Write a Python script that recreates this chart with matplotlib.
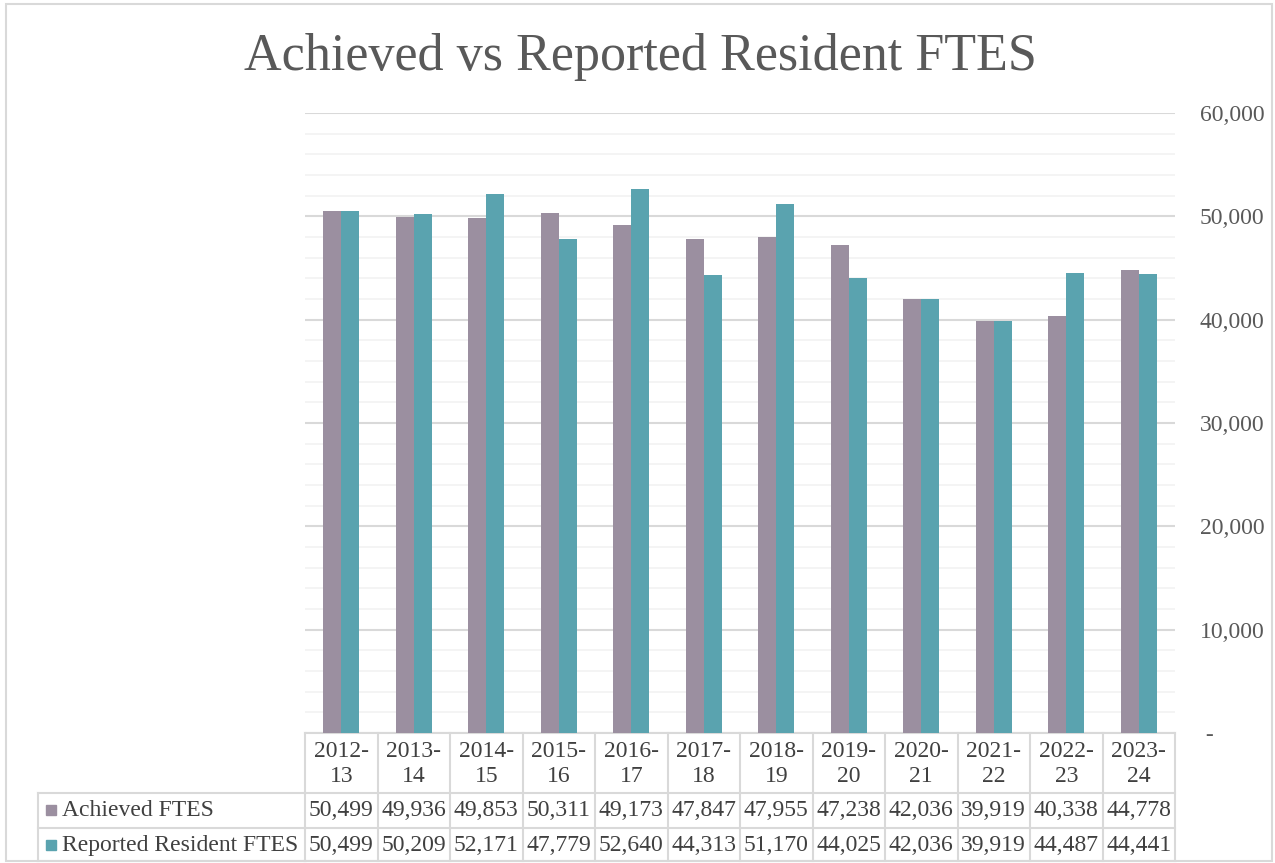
import numpy as np
import matplotlib.pyplot as plt
from matplotlib.patches import Rectangle
from matplotlib.transforms import blended_transform_factory
from matplotlib.ticker import FuncFormatter, MultipleLocator

plt.rcParams['font.family'] = ['Liberation Serif', 'DejaVu Serif']

# data
years = ["2012-\n13", "2013-\n14", "2014-\n15", "2015-\n16", "2016-\n17", "2017-\n18",
         "2018-\n19", "2019-\n20", "2020-\n21", "2021-\n22", "2022-\n23", "2023-\n24"]
achieved = [50499, 49936, 49853, 50311, 49173, 47847, 47955, 47238, 42036, 39919, 40338, 44778]
reported = [50499, 50209, 52171, 47779, 52640, 44313, 51170, 44025, 42036, 39919, 44487, 44441]
series_names = ["Achieved FTES", "Reported Resident FTES"]
colors = ["#9B8FA0", "#5AA3AF"]

W, H = 1275, 863
fig = plt.figure(figsize=(W / 100, H / 100), dpi=100)

def fy(py):
    return (H - py) / H

def fx(px):
    return px / W

# outer border
fig.patches.append(Rectangle((fx(6), fy(861)), fx(1272) - fx(6), fy(4) - fy(861),
                             transform=fig.transFigure, fill=False, ec="#D9D9D9", lw=1.5))

ax = fig.add_axes([fx(305), fy(733), fx(1175) - fx(305), fy(113) - fy(733)])
x = np.arange(len(years))
ax.bar(x - 0.125, achieved, width=0.25, color=colors[0], zorder=3)
ax.bar(x + 0.125, reported, width=0.25, color=colors[1], zorder=3)

ax.set_xlim(-0.5, len(years) - 0.5)
ax.set_ylim(0, 60000)
ax.yaxis.set_major_locator(MultipleLocator(10000))
ax.yaxis.set_minor_locator(MultipleLocator(2000))
ax.grid(which="major", axis="y", color="#D9D9D9", lw=1.5, zorder=0)
ax.grid(which="minor", axis="y", color="#F2F2F2", lw=1.2, zorder=0)
ax.yaxis.tick_right()
ax.yaxis.set_major_formatter(FuncFormatter(lambda v, p: " -" if v == 0 else f"{v:,.0f}"))
ax.tick_params(axis="y", which="both", length=0, pad=18, labelsize=17, labelcolor="#595959")
ax.tick_params(axis="x", length=0, labelbottom=False)
for s in ax.spines.values():
    s.set_visible(False)

fig.text(0.502, fy(57), "Achieved vs Reported Resident FTES", ha="center", va="center",
         fontsize=37.5, color="#595959")

# data table below the plot
tr = blended_transform_factory(ax.transData, fig.transFigure)
line_kw = dict(color="#D9D9D9", lw=1.5, clip_on=False)
rows_y = [733, 793, 828, 861]
left_px = 38
# horizontal lines across category columns
for py in rows_y:
    ax.plot([-0.5, len(years) - 0.5], [fy(py), fy(py)], transform=tr, **line_kw)
# row label column
for py in rows_y[1:]:
    fig.add_artist(plt.Line2D([fx(left_px), fx(305)], [fy(py), fy(py)], color="#D9D9D9", lw=1.5))
fig.add_artist(plt.Line2D([fx(left_px), fx(left_px)], [fy(793), fy(861)], color="#D9D9D9", lw=1.5))
# vertical lines
for b in np.arange(len(years) + 1) - 0.5:
    ax.plot([b, b], [fy(733), fy(861)], transform=tr, **line_kw)

for i, yr in enumerate(years):
    ax.text(i, fy(764), yr, transform=tr, ha="center", va="center", fontsize=17,
            color="#404040", linespacing=1.3)
    ax.text(i, fy(810), f"{achieved[i]:,}", transform=tr, ha="center", va="center",
            fontsize=17, color="#404040")
    ax.text(i, fy(845), f"{reported[i]:,}", transform=tr, ha="center", va="center",
            fontsize=17, color="#404040")

for name, c, py in zip(series_names, colors, [810, 845]):
    fig.patches.append(Rectangle((fx(46), fy(py + 5)), fx(10), fy(py - 5) - fy(py + 5),
                                 transform=fig.transFigure, color=c))
    fig.text(fx(62), fy(py), name, ha="left", va="center", fontsize=17, color="#404040")

fig.savefig("out.png", dpi=100)
